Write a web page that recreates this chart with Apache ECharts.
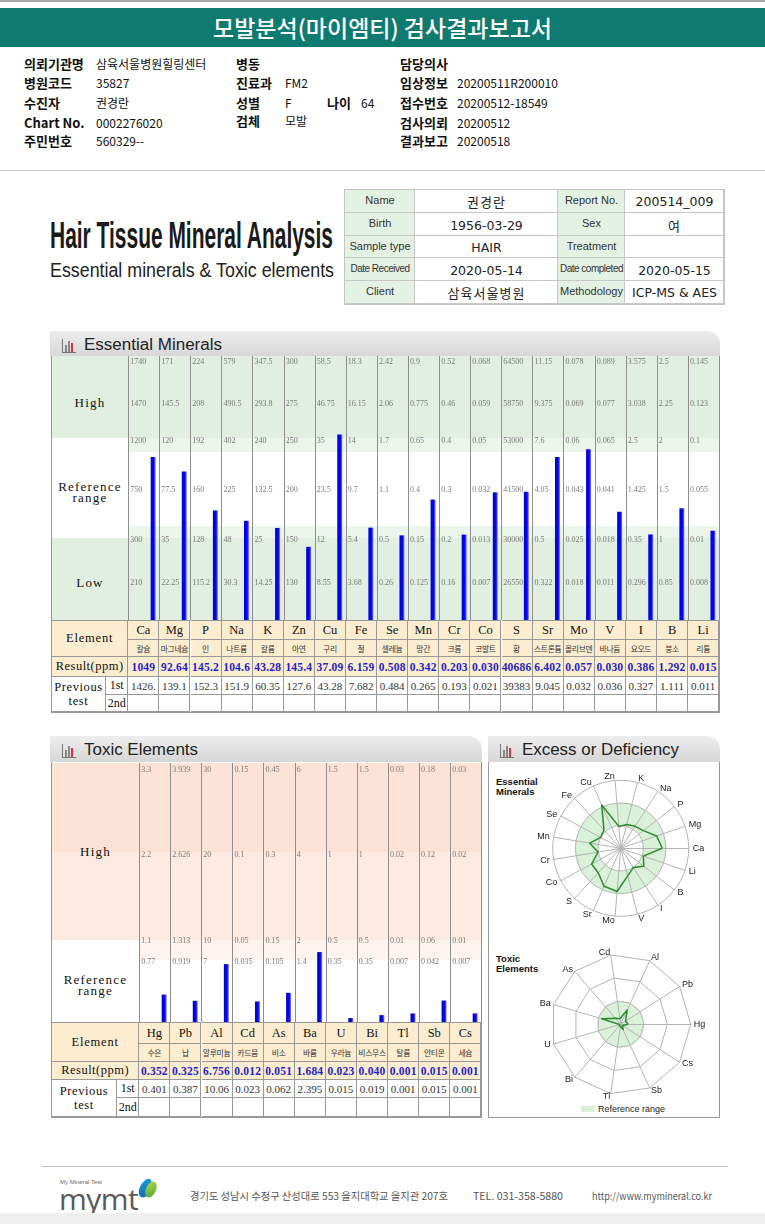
<!DOCTYPE html>
<html><head><meta charset="utf-8">
<script src="https://cdn.jsdelivr.net/npm/echarts/dist/echarts.min.js"></script>
<style>
html,body{margin:0;padding:0;}
body{width:765px;height:1224px;position:relative;background:#fff;overflow:hidden;font-family:"Noto Sans CJK KR","Noto Sans",sans-serif;color:#111;}
.a{position:absolute;white-space:nowrap;box-sizing:border-box;}
.c{display:flex;align-items:center;justify-content:center;}
.ser{font-family:"Liberation Serif","DejaVu Serif",serif;}
.ar{font-family:"Liberation Sans",Arial,sans-serif;}
#chart{position:absolute;left:0;top:0;width:765px;height:1224px;z-index:5;}
</style></head><body>
<div id="chart"></div>
<script>
// ---------------- DATA ----------------
const essElems = ['Ca','Mg','P','Na','K','Zn','Cu','Fe','Se','Mn','Cr','Co','S','Sr','Mo','V','I','B','Li'];
const essKor = ['칼슘','마그네슘','인','나트륨','칼륨','아연','구리','철','셀레늄','망간','크롬','코발트','황','스트론튬','몰리브덴','바나듐','요오드','붕소','리튬'];
const essTop = [1740,171,224,579,347.5,300,58.5,18.3,2.42,0.9,0.52,0.068,64500,11.15,0.078,0.089,3.575,2.5,0.145];
const essHighMid = [1470,145.5,208,490.5,293.8,275,46.75,16.15,2.06,0.775,0.46,0.059,58750,9.375,0.069,0.077,3.038,2.25,0.123];
const essUpper = [1200,120,192,402,240,250,35,14,1.7,0.65,0.4,0.05,53000,7.6,0.06,0.065,2.5,2,0.1];
const essMid = [750,77.5,160,225,132.5,200,23.5,9.7,1.1,0.4,0.3,0.032,41500,4.05,0.043,0.041,1.425,1.5,0.055];
const essLower = [300,35,128,48,25,150,12,5.4,0.5,0.15,0.2,0.013,30000,0.5,0.025,0.018,0.35,1,0.01];
const essLowMid = [210,22.25,115.2,30.3,14.25,130,8.55,3.68,0.26,0.125,0.16,0.007,26550,0.322,0.018,0.011,0.296,0.85,0.008];
const essResult = [1049,92.64,145.2,104.6,43.28,145.4,37.09,6.159,0.508,0.342,0.203,0.030,40686,6.402,0.057,0.030,0.386,1.292,0.015];
const essPrev1 = ['1426.','139.1','152.3','151.9','60.35','127.6','43.28','7.682','0.484','0.265','0.193','0.021','39383','9.045','0.032','0.036','0.327','1.111','0.011'];

const toxElems = ['Hg','Pb','Al','Cd','As','Ba','U','Bi','Tl','Sb','Cs'];
const toxKor = ['수은','납','알루미늄','카드뮴','비소','바륨','우라늄','비스무스','탈륨','안티몬','세슘'];
const toxTop = [3.3,3.939,30,0.15,0.45,6,1.5,1.5,0.03,0.18,0.03];
const toxHighMid = [2.2,2.626,20,0.1,0.3,4,1,1,0.02,0.12,0.02];
const toxUpper = [1.1,1.313,10,0.05,0.15,2,0.5,0.5,0.01,0.06,0.01];
const toxRef = [0.77,0.919,7,0.035,0.105,1.4,0.35,0.35,0.007,0.042,0.007];
const toxResult = [0.352,0.325,6.756,0.012,0.051,1.684,0.023,0.040,0.001,0.015,0.001];
const toxPrev1 = ['0.401','0.387','10.06','0.023','0.062','2.395','0.015','0.019','0.001','0.015','0.001'];

// ---------------- LAYOUT ----------------
const E = {x0:128.3, cw:31.1, top:356, h:264};
const T = {x0:139.3, cw:31.1, top:763, h:259};
const essKnotPos = [0, 37, 84, 179, 216, 258];      // display height of 0, lowMid, lower, upper, highMid, top
const essLabelPos = [258, 216, 179, 130, 80, 37];   // rows: top, highMid, upper, mid, lower, lowMid
const toxKnotPos = [0, 60, 81, 167, 252];           // 0, ref, upper, highMid, top
const toxLabelPos = [252, 167, 81, 60];

function piece(v, ks, ps){
  for(let k=1;k<ks.length;k++){ if(v<=ks[k]) return ps[k-1]+(v-ks[k-1])/(ks[k]-ks[k-1])*(ps[k]-ps[k-1]); }
  const n=ks.length-1; return Math.min(ps[n]+(v-ks[n])/(ks[n]-ks[n-1])*(ps[n]-ps[n-1]), 264);
}
function essD(i,v){ return piece(v,[0,essLowMid[i],essLower[i],essUpper[i],essHighMid[i],essTop[i]],essKnotPos); }
function toxD(i,v){ return piece(v,[0,toxRef[i],toxUpper[i],toxHighMid[i],toxTop[i]],toxKnotPos); }
function essNorm(v,i){ return Math.min(3, piece(v,[0,essLower[i],essUpper[i],essTop[i]],[0,1,2,3])); }
function toxNorm(v,i){ return Math.min(3, piece(v,[0,toxUpper[i],toxHighMid[i],toxTop[i]],[0,1,2,3])); }
function fmt(v){ if(v>=1000) return String(Math.round(v)); if(v<1) return v.toFixed(3); return v.toPrecision(4); }

// ---------------- HTML helpers ----------------
function box(x,y,w,h,style,html,cls){
  const d=document.createElement('div'); d.className='a '+(cls||'');
  let s=`left:${x}px;top:${y}px;`; if(w!=null) s+=`width:${w}px;`; if(h!=null) s+=`height:${h}px;`;
  d.style.cssText=s+(style||''); if(html!=null) d.innerHTML=html; document.body.appendChild(d); return d;
}
function txt(x,yc,str,style,cls,lh){ lh=lh||16; return box(x,yc-lh/2,null,lh,`line-height:${lh}px;`+(style||''),str,cls); }
function fit(el,w){ const r=el.getBoundingClientRect().width; if(r>0){ el.style.transformOrigin='0 50%'; el.style.transform=`scaleX(${w/r})`; } }

// top line + banner
box(0,0,765,2,'background:#a9a9a9;');
box(0,8,765,39,'background:#0f7a70;');
box(0,8,765,39,'color:#fff;font-size:23px;font-weight:500;line-height:39px;text-align:center;','모발분석(마이엠티) 검사결과보고서');

// info block
const L='font-size:13px;font-weight:700;color:#111;';
const V='font-size:12px;color:#111;';
const rowsY=[64,83,103,123,141];
txt(24,rowsY[0],'의뢰기관명',L); txt(96,rowsY[0],'삼육서울병원힐링센터',V);
txt(236,rowsY[0],'병동',L); txt(400,rowsY[0],'담당의사',L);
txt(24,rowsY[1],'병원코드',L); txt(96,rowsY[1],'35827',V);
txt(236,rowsY[1],'진료과',L); txt(285,rowsY[1],'FM2',V);
txt(400,rowsY[1],'임상정보',L); txt(457,rowsY[1],'20200511R200010',V);
txt(24,rowsY[2],'수진자',L); txt(96,rowsY[2],'권경란',V);
txt(236,rowsY[2],'성별',L); txt(285,rowsY[2],'F',V);
txt(327,rowsY[2],'나이',L); txt(361,rowsY[2],'64',V);
txt(400,rowsY[2],'접수번호',L); txt(457,rowsY[2],'20200512-18549',V);
txt(24,rowsY[3],'Chart No.',L); txt(96,rowsY[3],'0002276020',V);
txt(236,rowsY[3]-2,'검체',L); txt(285,rowsY[3]-2,'모발',V);
txt(400,rowsY[3],'검사의뢰',L); txt(457,rowsY[3],'20200512',V);
txt(24,rowsY[4],'주민번호',L); txt(96,rowsY[4],'560329--',V);
txt(400,rowsY[4],'결과보고',L); txt(457,rowsY[4],'20200518',V);

box(0,170,765,1,'background:#d0d0d0;');

// big title
const t1=txt(50,236,'Hair Tissue Mineral Analysis','font-family:"Liberation Sans Narrow","Liberation Sans",Arial;font-weight:700;font-size:36px;color:#1a1a1a;','',40);
const t2=txt(50,270,'Essential minerals &amp; Toxic elements','font-family:"Liberation Sans Narrow","Liberation Sans",Arial;font-size:20px;color:#222;','',24);

// info table
const infoRows=[['Name','권경란','Report No.','200514_009'],['Birth','1956-03-29','Sex','여'],['Sample type','HAIR','Treatment',''],['Date Received','2020-05-14','Date completed','2020-05-15'],['Client','삼육서울병원','Methodology','ICP-MS &amp; AES']];
const infoY=[190,212.5,235.5,258,281,303.5];
const infoX=[345,415,558,625,724];
box(344,189,381,115.5,'border:2px solid #c4c4c4;');
for(let r=0;r<5;r++){
  for(let c=0;c<4;c++){
    const x=infoX[c], w=infoX[c+1]-infoX[c], y=infoY[r], h=infoY[r+1]-infoY[r];
    const isL=(c%2===0);
    const st=`border-right:1px solid #c8c8c8;border-bottom:1px solid #c8c8c8;background:${isL?'#e4f2e4':'#fff'};`;
    box(x,y,w,h,st);
    const s=infoRows[r][c]; if(!s) continue;
    if(isL){
      const el=box(x,y,w,h-2,'font-size:11px;color:#333;line-height:'+(h-2)+'px;text-align:center;',s,'ar');
      if(s.length>12){ el.style.fontSize='10px'; el.style.letterSpacing='-0.5px'; }
    } else {
      const kor=/[가-힣]/.test(s);
      box(x,y+2,w,h-2,`font-size:${kor?13:12.5}px;color:#222;line-height:${h-2}px;text-align:center;`+(kor?'letter-spacing:1px;':'font-family:"DejaVu Sans";'),s);
    }
  }
}

// panel header helper
function header(x,y,w,title,tw){
  box(x,y,w,26,'background:linear-gradient(#ededed,#d6d6d6);border-radius:0 13px 0 0;');
  box(x+12,y+8,1,14,'background:#777;'); box(x+12,y+21,14,1,'background:#777;');
  box(x+15,y+14,2,7,'background:#888;'); box(x+18,y+10,2,11,'background:#888;'); box(x+21,y+12,2,9,'background:#d33;');
  const el=txt(x+34,y+14,title,'font-size:16px;color:#222;','ar',20);
  return [el,tw];
}
const hdrs=[header(50,331,670,'Essential Minerals',138),header(50,736,432,'Toxic Elements',114),header(488,736,232,'Excess or Deficiency',157)];

// ---- essential body ----
box(51,356,669,357,'border:1px solid #999;border-top:none;');
box(52,356,76.3,82,'background:#e1efe1;'); box(52,538,76.3,82,'background:#e1efe1;');
box(128.3,356,590.9,82,'background:#e1efe1;');
box(128.3,438,590.9,14,'background:#ecf5ec;');
box(128.3,526,590.9,12,'background:#ecf5ec;');
box(128.3,538,590.9,82,'background:#e1efe1;');
const Z='font-size:13px;letter-spacing:1.2px;color:#111;text-align:center;';
box(52,395,76,16,Z+'line-height:16px;','High','ser');
box(52,481,76,24,Z+'line-height:11px;','Reference<br>range','ser');
box(52,575,76,16,Z+'line-height:16px;','Low','ser');

// element table
function table(x0,cw,n,rows,prevW,syms,kors,res,prev){
  const [r0,r1,r2,r3,r4,r5]=rows;
  const B='border-right:1px solid #999;border-bottom:1px solid #999;';
  box(51,r0,x0-51,r2-r0,B+'background:#fdedd0;border-left:1px solid #999;border-top:1px solid #999;font-size:12.5px;letter-spacing:0.8px;','Element','c ser');
  box(51,r2,x0-51,r3-r2,B+'background:#fdedd0;border-left:1px solid #999;font-size:12.5px;letter-spacing:0.5px;','Result(ppm)','c ser');
  box(51,r3,prevW,r5-r3,B+'border-left:1px solid #999;font-size:12.5px;letter-spacing:0.6px;line-height:14px;text-align:center;','Previous<br>test','c ser');
  box(51+prevW,r3,x0-51-prevW,r4-r3,B+'font-size:12px;','1st','c ser');
  box(51+prevW,r4,x0-51-prevW,r5-r4,B+'font-size:12px;','2nd','c ser');
  for(let i=0;i<n;i++){
    const x=x0+cw*i;
    box(x,r0,cw,r1-r0,B+'background:#fdedd0;border-top:1px solid #999;font-size:12.5px;color:#111;',syms[i],'c ser');
    box(x,r1,cw,r2-r1,B+'background:#fdedd0;font-size:7.8px;letter-spacing:-0.3px;color:#333;overflow:visible;',kors[i],'c');
    box(x,r2,cw,r3-r2,B+'background:#fdedd0;font-size:11.5px;font-weight:700;color:#1f1fcf;letter-spacing:0.2px;',fmt(res[i]),'c ser');
    box(x,r3,cw,r4-r3,B+'font-size:11px;color:#333;',prev[i],'c ser');
    box(x,r4,cw,r5-r4,B);
  }
}
table(E.x0,E.cw,19,[620,640,657,677,695,712],55,essElems,essKor,essResult,essPrev1);

// ---- toxic body ----
box(51,762,431,356,'border:1px solid #999;border-top:none;');
box(52,763,87.3,89,'background:#fde3d5;'); box(52,852,87.3,88,'background:#fdebe2;');
box(139.3,763,342.1,89,'background:#fde3d5;');
box(139.3,852,342.1,88,'background:#fdebe2;');
box(139.3,940,342.1,20,'background:#fef3ed;');
box(52,844,87,16,Z+'line-height:16px;','High','ser');
box(52,974,87,24,Z+'line-height:11px;','Reference<br>range','ser');
table(T.x0,T.cw,11,[1022,1044,1062,1080,1098,1117],66,toxElems,toxKor,toxResult,toxPrev1);

// ---- excess panel ----
box(488,762,232,356,'border:1px solid #999;border-top:none;');
box(496,777,null,null,'font-size:9.5px;font-weight:700;line-height:10px;color:#111;','Essential<br>Minerals','ar');
box(496,954,null,null,'font-size:9.5px;font-weight:700;line-height:10px;color:#111;','Toxic<br>Elements','ar');
box(581,1106,14,6,'background:#d8efd8;');
txt(598,1109,'Reference range','font-size:9px;color:#222;','ar',12);

// ---- footer ----
box(42,1166,686,1,'background:#c4c4c4;');
txt(60,1182,'My Mineral Test','font-size:6px;color:#666;','ar',8);
txt(59,1199,'mymt','font-family:"Open Sans",Lato,sans-serif;font-size:30px;color:#5a5a5a;letter-spacing:-0.5px;','',32);
box(140,1178,11,20,'background:linear-gradient(135deg,#1aa0dc,#1565b5);border-radius:50% 50% 50% 50%/60% 60% 40% 40%;transform:rotate(25deg);');
box(146,1181,10,17,'background:linear-gradient(135deg,#b5d94a,#4aa23a);border-radius:50%;transform:rotate(25deg);');
const f1=txt(190,1196,'경기도 성남시 수정구 산성대로 553 을지대학교 을지관 207호','font-size:10px;color:#555;','',14);
const f2=txt(473,1196,'TEL. 031-358-5880','font-size:10px;color:#555;','',14);
const f3=txt(592,1196,'http://www.mymineral.co.kr','font-size:10px;color:#555;','',14);
box(0,1213,765,11,'background:#efefef;');

fit(t1,283); fit(t2,284); fit(f1,258); fit(f2,90); fit(f3,120);
hdrs.forEach(([el,w])=>fit(el,w));

// ---------------- ECHARTS ----------------
const chart=echarts.init(document.getElementById('chart'),null,{renderer:'canvas'});
const barColor={type:'linear',x:0,y:0,x2:1,y2:0,colorStops:[{offset:0,color:'#0000d6'},{offset:0.65,color:'#0808e8'},{offset:1,color:'#8a8aff'}]};
function labelData(arrs,pos){
  const out=[]; arrs.forEach((arr,r)=>arr.forEach((v,i)=>out.push({value:[i+0.06,pos[r]],t:String(v)}))); return out;
}
const labStyle={show:true,position:'right',distance:0,formatter:p=>p.data.t,fontSize:8,fontFamily:'Liberation Serif',color:'#5a5a5a'};
const xAx=(g,max)=>({gridIndex:g,type:'value',min:0,max:max,interval:1,axisLine:{show:false},axisTick:{show:false},axisLabel:{show:false},splitLine:{show:true,lineStyle:{color:'#8e8e8e',width:1}}});
const yAx=(g,max)=>({gridIndex:g,type:'value',min:0,max:max,show:false,splitLine:{show:false}});
const radarCommon={startAngle:0,splitNumber:3,nameGap:4,axisName:{color:'#222',fontSize:9,fontFamily:'Liberation Sans'}};
chart.setOption({
  animation:false,
  grid:[{left:E.x0,top:E.top,width:E.cw*19,height:E.h},{left:T.x0,top:T.top,width:T.cw*11,height:T.h}],
  xAxis:[xAx(0,19),xAx(1,11)],
  yAxis:[yAx(0,E.h),yAx(1,T.h)],
  radar:[
    Object.assign({},radarCommon,{center:[620.7,848.3],radius:68,shape:'circle',
      indicator:essElems.map(n=>({name:n,min:0,max:3})),
      splitLine:{lineStyle:{color:'#b4b4b4',width:1}},axisLine:{lineStyle:{color:'#b4b4b4'}},
      splitArea:{show:true,areaStyle:{color:['rgba(0,0,0,0)','#d9f0d9','rgba(0,0,0,0)']}}}),
    Object.assign({},radarCommon,{center:[620.7,1024.3],radius:70,shape:'circle',
      indicator:toxElems.map(n=>({name:n,min:0,max:3})),axisName:{show:false},
      splitLine:{show:false},axisLine:{show:false},
      splitArea:{show:true,areaStyle:{color:['#d9f0d9','rgba(0,0,0,0)','rgba(0,0,0,0)']}}}),
    Object.assign({},radarCommon,{center:[620.7,1024.3],radius:70,shape:'polygon',
      indicator:toxElems.map(n=>({name:n,min:0,max:3})),nameGap:3,
      splitLine:{lineStyle:{color:'#b4b4b4',width:1}},axisLine:{lineStyle:{color:'#b4b4b4'}},
      splitArea:{show:false}})
  ],
  series:[
    {type:'bar',xAxisIndex:0,yAxisIndex:0,barWidth:5,silent:true,itemStyle:{color:barColor},
     data:essResult.map((v,i)=>[i+0.8,essD(i,v)])},
    {type:'scatter',xAxisIndex:0,yAxisIndex:0,symbolSize:0,silent:true,label:labStyle,
     data:labelData([essTop,essHighMid,essUpper,essMid,essLower,essLowMid],essLabelPos)},
    {type:'bar',xAxisIndex:1,yAxisIndex:1,barWidth:5,silent:true,itemStyle:{color:barColor},
     data:toxResult.map((v,i)=>[i+0.8,toxD(i,v)])},
    {type:'scatter',xAxisIndex:1,yAxisIndex:1,symbolSize:0,silent:true,label:labStyle,
     data:labelData([toxTop,toxHighMid,toxUpper,toxRef],toxLabelPos)},
    {type:'radar',radarIndex:0,symbol:'none',silent:true,lineStyle:{color:'#2e8a2e',width:1.5},
     data:[{value:essResult.map(essNorm)}]},
    {type:'radar',radarIndex:2,symbol:'none',silent:true,lineStyle:{color:'#2e8a2e',width:1.5},
     data:[{value:toxResult.map(toxNorm)}]}
  ]
});
</script>
</body></html>
